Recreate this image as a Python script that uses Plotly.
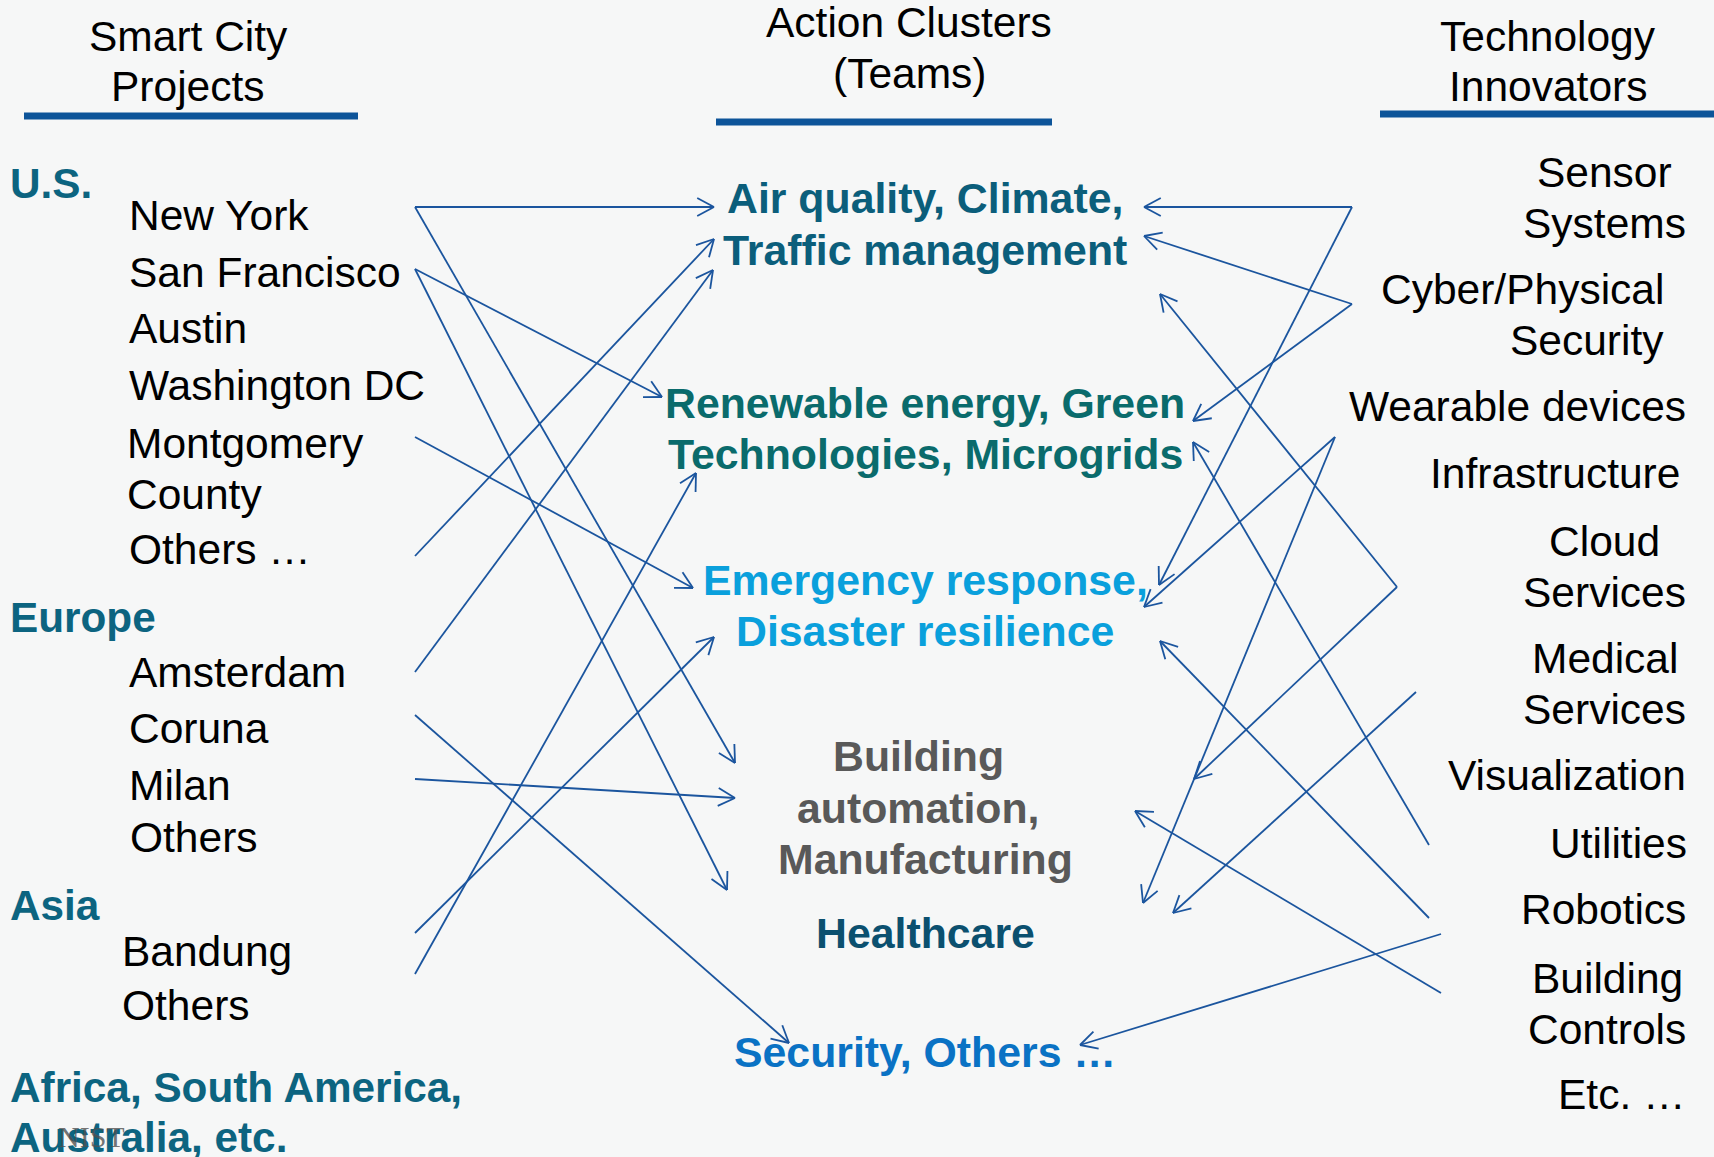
import math
import plotly.graph_objects as go

W, H = 1714, 1157

# ---------------- data ----------------
header_left = ["Smart City", "Projects"]
header_mid = ["Action Clusters", "(Teams)"]
header_right = ["Technology", "Innovators"]

regions = ["U.S.", "Europe", "Asia", "Africa, South America,", "Australia, etc."]
region_y = [183, 617, 905, 1087, 1137]

cities = ["New York", "San Francisco", "Austin", "Washington DC", "Montgomery", "County", "Others …",
          "Amsterdam", "Coruna", "Milan", "Others", "Bandung", "Others"]
city_x = [127, 127, 127, 127, 125, 125, 127, 127, 127, 127, 128, 120, 120]
city_y = [215, 272, 328, 385, 443, 494, 549, 672, 728, 785, 837, 951, 1005]

clusters = ["Air quality, Climate,", "Traffic management", "Renewable energy, Green",
            "Technologies, Microgrids", "Emergency response,", "Disaster resilience",
            "Building", "automation,", "Manufacturing", "Healthcare", "Security, Others …"]
cluster_x = [925, 925, 925, 925, 925, 925, 918, 918, 925, 925, 925]
cluster_y = [198, 250, 403, 454, 580, 631, 756, 808, 859, 933, 1052]
cluster_color = ["#0b5e7b", "#0b5e7b", "#0a6b6c", "#0a6b6c", "#0aa0dc", "#0aa0dc",
                 "#595959", "#595959", "#595959", "#0b506f", "#0a72c4"]

techs = ["Sensor", "Systems", "Cyber/Physical", "Security", "Wearable devices", "Infrastructure",
         "Cloud", "Services", "Medical", "Services", "Visualization", "Utilities", "Robotics",
         "Building", "Controls", "Etc. …"]
tech_right = [1674, 1688, 1666, 1666, 1688, 1682, 1662, 1688, 1680, 1688, 1688, 1689, 1688, 1685, 1688, 1688]
tech_y = [172, 223, 289, 340, 406, 473, 541, 592, 658, 709, 775, 843, 909, 978, 1029, 1094]

# arrows: (start x, start y, end x, end y) in page pixels
left_arrows = [
    (415, 207, 714, 207),   # New York -> Air quality
    (415, 207, 735, 763),   # New York -> Building automation
    (415, 269, 662, 397),   # San Francisco -> Renewable
    (415, 269, 727, 890),   # San Francisco -> Manufacturing
    (415, 437, 693, 588),   # Montgomery -> Emergency
    (415, 556, 714, 239),   # Others (US) -> Air quality
    (415, 672, 713, 270),   # Amsterdam -> Traffic
    (415, 715, 789, 1043),  # Coruna -> Security
    (415, 779, 735, 798),   # Milan -> Building automation
    (415, 933, 714, 637),   # Bandung -> Emergency
    (415, 974, 696, 473),   # Others (Asia) -> Renewable
]
right_arrows = [
    (1352, 207, 1144, 207),  # Sensor -> Air quality
    (1352, 207, 1159, 585),  # Sensor -> Emergency
    (1352, 304, 1144, 236),  # Cyber -> Traffic
    (1352, 304, 1193, 421),  # Cyber -> Renewable
    (1335, 437, 1144, 607),  # Wearable -> Emergency
    (1335, 437, 1143, 903),  # Wearable -> Healthcare
    (1397, 587, 1160, 294),  # Cloud -> Traffic
    (1397, 587, 1194, 779),  # Cloud -> Building
    (1429, 845, 1193, 442),  # Utilities -> Renewable
    (1416, 692, 1173, 913),  # Medical -> Healthcare
    (1429, 918, 1160, 641),  # Robotics -> Emergency
    (1441, 993, 1135, 811),  # Building Controls -> Building automation
    (1441, 934, 1080, 1045), # Robotics -> Security
]

# ---------------- figure ----------------
FONT = "Liberation Sans, Arial, sans-serif"
FS = 42.5
FS_B = 42.8
LINE_COLOR = "#1b559e"

fig = go.Figure()

xs, ys = [], []
head_len, head_ang = 19, math.radians(28)
for (x1, y1, x2, y2) in left_arrows + right_arrows:
    xs += [x1, x2, None]
    ys += [y1, y2, None]
    dx, dy = x2 - x1, y2 - y1
    L = math.hypot(dx, dy)
    ux, uy = dx / L, dy / L
    for s in (1, -1):
        ca, sa = math.cos(s * head_ang), math.sin(s * head_ang)
        rx = ux * ca - uy * sa
        ry = ux * sa + uy * ca
        xs += [x2 - head_len * rx, x2, None]
        ys += [y2 - head_len * ry, y2, None]

fig.add_trace(go.Scatter(x=xs, y=ys, mode="lines", line=dict(color=LINE_COLOR, width=1.8),
                         hoverinfo="skip", showlegend=False))

ann = []

def add_text(txt, x, y, anchor, color="#000000", bold=False, size=FS, family=FONT):
    ann.append(dict(text=txt, x=x, y=y, xref="x", yref="y", xanchor=anchor, yanchor="middle",
                    showarrow=False,
                    font=dict(family=family, size=size, color=color, weight="bold" if bold else "normal")))

# headers
for i, t in enumerate(header_left):
    add_text(t, 188, [36, 86][i], "center")
for i, t in enumerate(header_mid):
    add_text(t, 909, [22, 73][i], "center")
for i, t in enumerate(header_right):
    add_text(t, 1548, [36, 86][i], "center")

for t, y in zip(regions, region_y):
    add_text(t, 8, y, "left", color="#0c6480", bold=True, size=42.3)
for t, x, y in zip(cities, city_x, city_y):
    add_text(t, x, y, "left")
for t, x, y, c in zip(clusters, cluster_x, cluster_y, cluster_color):
    add_text(t, x, y, "center", color=c, bold=True, size=FS_B)
for t, x, y in zip(techs, tech_right, tech_y):
    add_text(t, x, y, "right")

add_text("NIST", 91, 1136, "center", color="rgba(80,80,80,0.8)", size=30,
         family="Liberation Serif, Times New Roman, serif")

shapes = []
for (xa, xb, yy) in [(24, 358, 116), (716, 1052, 122), (1380, 1714, 114)]:
    shapes.append(dict(type="line", x0=xa, x1=xb, y0=yy, y1=yy, xref="x", yref="y",
                       line=dict(color="#0d5499", width=7)))

fig.update_layout(
    width=W, height=H,
    margin=dict(l=0, r=0, t=0, b=0),
    paper_bgcolor="#f6f7f7", plot_bgcolor="#f6f7f7",
    xaxis=dict(range=[0, W], visible=False, fixedrange=True),
    yaxis=dict(range=[H, 0], visible=False, fixedrange=True),
    annotations=ann, shapes=shapes,
    showlegend=False,
)

fig.write_html("out.html", config={"displayModeBar": False},
               post_script="document.body.style.margin='0';document.body.style.overflow='hidden';")
